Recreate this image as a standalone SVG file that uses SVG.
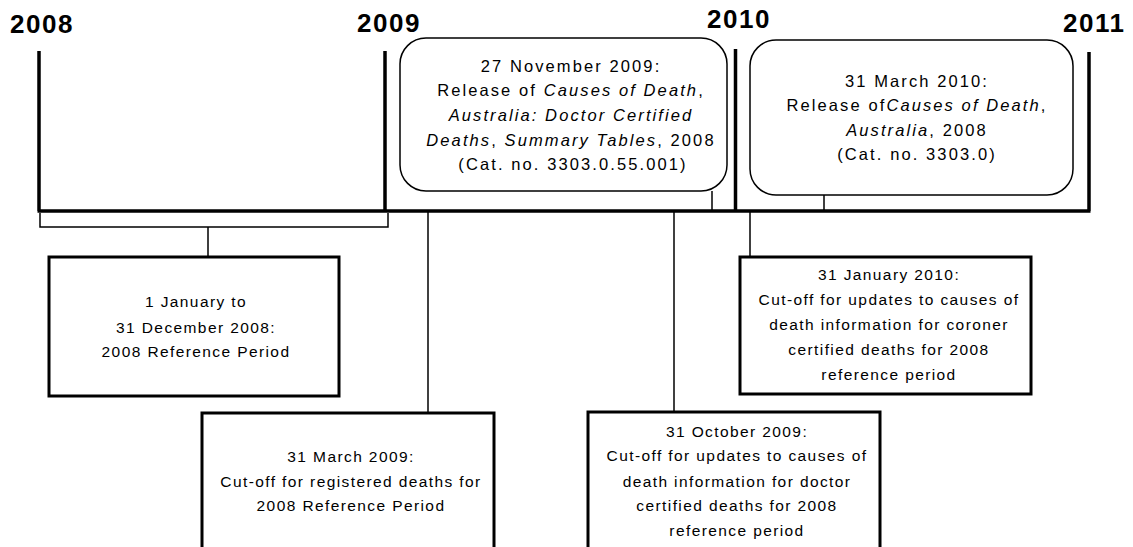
<svg xmlns="http://www.w3.org/2000/svg" width="1133" height="547" viewBox="0 0 1133 547">
<style>
.yr{font-family:"Liberation Sans",Arial,sans-serif;font-weight:bold;font-size:26px;letter-spacing:1.5px;fill:#000}
.t{font-family:"Liberation Sans",Arial,sans-serif;font-size:15.5px;letter-spacing:1.4px;fill:#000;text-anchor:middle}
.r{font-size:16.5px;letter-spacing:2.1px}
.i{font-style:italic}
.thick{stroke:#000;stroke-width:3.5;fill:none}
.box{stroke:#000;stroke-width:3;fill:#fff}
.rbox{stroke:#000;stroke-width:1.5;fill:#fff}
.thin{stroke:#000;stroke-width:1.5;fill:none}
</style>
<rect width="1133" height="547" fill="#fff"/>
<g id="years">
<text class="yr" x="10" y="33">2008</text>
<text class="yr" x="357" y="32">2009</text>
<text class="yr" x="707" y="28">2010</text>
<text class="yr" x="1063" y="32">2011</text>
</g>
<g id="timeline">
<path class="thick" d="M39 51V211M385 51V211M735.5 49V211M1089 52V211M37.5 211H1090.5"/>
</g>
<g id="connectors">
<path class="thin" d="M40 213V227H388V213M208 227V257"/>
<path class="thin" d="M428 212V413"/>
<path class="thin" d="M674 212V412"/>
<path class="thin" d="M750 212V257"/>
<path class="thin" d="M712 191V210"/>
<path class="thin" d="M824 195V210"/>
</g>
<g id="node-ref-period">
<rect class="box" x="49" y="257" width="290" height="139"/>
<text class="t" x="196" y="307">1 January to</text>
<text class="t" x="196" y="333">31 December 2008:</text>
<text class="t" x="196" y="357">2008 Reference Period</text>
</g>
<g id="node-march-2009">
<rect class="box" x="202" y="413" width="292" height="150"/>
<text class="t" x="351" y="462">31 March 2009:</text>
<text class="t" x="351" y="487">Cut-off for registered deaths for</text>
<text class="t" x="351" y="511">2008 Reference Period</text>
</g>
<g id="node-oct-2009">
<rect class="box" x="588" y="412" width="292" height="150"/>
<text class="t" x="737" y="437">31 October 2009:</text>
<text class="t" x="737" y="461">Cut-off for updates to causes of</text>
<text class="t" x="737" y="487">death information for doctor</text>
<text class="t" x="737" y="511">certified deaths for 2008</text>
<text class="t" x="737" y="536">reference period</text>
</g>
<g id="node-jan-2010">
<rect class="box" x="740" y="257" width="291" height="137"/>
<text class="t" x="889" y="280">31 January 2010:</text>
<text class="t" x="889" y="305">Cut-off for updates to causes of</text>
<text class="t" x="889" y="330">death information for coroner</text>
<text class="t" x="889" y="355">certified deaths for 2008</text>
<text class="t" x="889" y="380">reference period</text>
</g>
<g id="node-nov-2009">
<rect class="rbox" x="400" y="38" width="327" height="153" rx="26" ry="26"/>
<text class="t r" x="571" y="72">27 November 2009:</text>
<text class="t r" x="571" y="96">Release of <tspan class="i">Causes of Death</tspan>,</text>
<text class="t r i" x="571" y="121">Australia: Doctor Certified</text>
<text class="t r" x="571" y="146"><tspan class="i">Deaths</tspan>, <tspan class="i">Summary Tables</tspan>, 2008</text>
<text class="t r" x="573" y="170">(Cat. no. 3303.0.55.001)</text>
</g>
<g id="node-march-2010">
<rect class="rbox" x="750" y="40" width="323" height="155" rx="26" ry="26"/>
<text class="t r" x="917" y="87">31 March 2010:</text>
<text class="t r" x="917" y="111">Release of<tspan class="i">Causes of Death</tspan>,</text>
<text class="t r" x="917" y="136"><tspan class="i">Australia</tspan>, 2008</text>
<text class="t r" x="917" y="160">(Cat. no. 3303.0)</text>
</g>
</svg>
